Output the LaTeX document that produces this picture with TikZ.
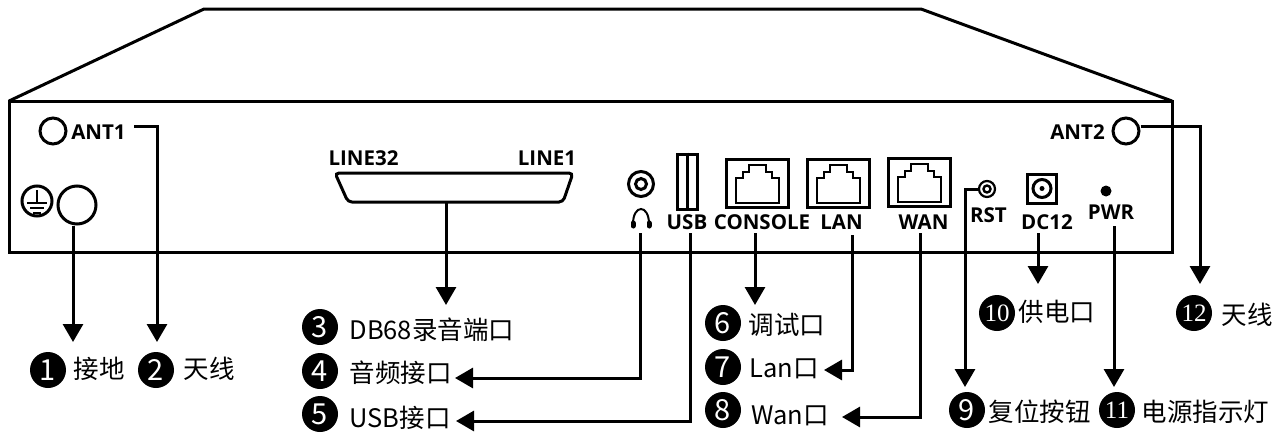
\documentclass[tikz,border=0pt]{standalone}
\usepackage{fontspec}
\setmainfont{Noto Sans CJK SC}
\newfontfamily\serifnum{Liberation Serif}
\newfontfamily\panelface{Open Sans}
\usetikzlibrary{arrows.meta}
\tikzset{every picture/.style = {x=1pt, y=-1pt, line width=3pt}}
\tikzset{badge/.style = {fill=black, text=white, shape=circle, inner sep=0, minimum size=36pt, font=\fontsize{29}{29}\selectfont}}
\tikzset{badgetwo/.style = {badge, font=\serifnum\fontsize{25}{25}\selectfont}}
\tikzset{caption/.style = {anchor=west, inner sep=0, font=\fontsize{25.5}{25.5}\selectfont}}
\tikzset{paneltext/.style = {inner sep=0, yshift=-1pt, font=\panelface\bfseries\fontsize{20.5}{20.5}\selectfont}}
\tikzset{port/.style = {draw, shape=circle, inner sep=0}}
\tikzset{portbox/.style = {draw, inner sep=0, minimum width=62pt, minimum height=48pt}}
\tikzset{wire/.style = {line width=3pt, -{Triangle[width=20pt, length=18pt]}}}
\newcommand{\rjicon}[2]{%
  \draw[line width=2.8pt] (#1-21.5,#2+20) -- (#1-21.5,#2-5) -- (#1-14.5,#2-5)
    -- (#1-14.5,#2-11) -- (#1-8.5,#2-11) -- (#1-8.5,#2-18) -- (#1+8.5,#2-18)
    -- (#1+8.5,#2-11) -- (#1+14.5,#2-11) -- (#1+14.5,#2-5) -- (#1+21.5,#2-5)
    -- (#1+21.5,#2+20) -- cycle;}

\begin{document}
\begin{tikzpicture}
  \useasboundingbox (0,0) rectangle (1287,434);
  \draw[line join=round] (9,101) -- (204,9) -- (921,9) -- (1172,101);
  \draw (9,101) rectangle (1172,252);

  \node[port, minimum size=26pt] (antone) at (53,131) {};
  \node[paneltext] (antonetext) at (98.5,131) {ANT1};
  \node[port, minimum size=30pt] (earth) at (37,201) {};
  \draw[line width=2.6pt] (37,190) -- (37,203) (27,203) -- (47,203) (30,208) -- (44,208) (33,213) -- (41,213);
  \node[port, minimum size=38pt] (ground) at (77,205) {};

  \node[paneltext] (linemax) at (363.5,157) {LINE32};
  \node[paneltext] (lineone) at (547,157) {LINE1};
  \draw[rounded corners=4pt] (335,173) -- (573,173) -- (563,202) -- (348,202) -- cycle;
  \coordinate (dsub) at (446,202);

  \node[port, minimum size=25pt] (jack) at (641,184) {};
  \node[port, minimum size=11pt] (jackin) at (641,184) {};
  \draw[line width=2pt] (633,224) .. controls (633,204) and (649,204) .. (649,224);
  \draw[line width=5pt, line cap=round] (633,223) -- (633,226) (649,223) -- (649,226);

  \node[draw, inner sep=0, minimum width=20pt, minimum height=55pt] (usb) at (687,181.5) {};
  \draw (usb.north) -- (usb.south);
  \node[paneltext] (usbtext) at (687,221) {USB};

  \node[portbox] (console) at (757.5,183) {};
  \rjicon{757.5}{183}
  \node[paneltext] (consoletext) at (762,221) {CONSOLE};
  \node[portbox] (lan) at (838.5,183) {};
  \rjicon{838.5}{183}
  \node[paneltext] (lantext) at (841.5,221) {LAN};
  \node[portbox] (wan) at (919.5,182) {};
  \rjicon{919.5}{182}
  \node[paneltext] (wantext) at (923.5,221) {WAN};

  \node[port, minimum size=16pt, line width=2.2pt] (rst) at (987,189) {};
  \node[port, minimum size=7pt, line width=2.4pt] (rstin) at (987,189) {};
  \node[paneltext] (rsttext) at (988.5,214) {RST};
  \node[draw, inner sep=0, minimum size=29pt] (dc) at (1042,188.5) {};
  \node[port, minimum size=18pt] (dcin) at (1042,188.5) {};
  \fill (1042,188.5) circle (2.5);
  \node[paneltext] (dctext) at (1047,221) {DC12};
  \node[fill, shape=circle, inner sep=0, minimum size=11pt] (pwr) at (1106,191) {};
  \node[paneltext] (pwrtext) at (1111,211) {PWR};
  \node[paneltext] (anttwotext) at (1077.5,131) {ANT2};
  \node[port, minimum size=26pt] (anttwo) at (1126,131) {};

  \node[badge] (numone) at (48,370) {1};
  \node[caption] (capone) at (72,369) {接地};
  \node[badge] (numtwo) at (156,370) {2};
  \node[caption] (captwo) at (182,369) {天线};
  \node[badge] (numthree) at (320,327) {3};
  \node[caption] (capthree) at (348,330) {DB68录音端口};
  \node[badge] (numfour) at (320,371) {4};
  \node[caption] (capfour) at (348,373) {音频接口};
  \node[badge] (numfive) at (320,414) {5};
  \node[caption] (capfive) at (348,418) {USB接口};
  \node[badge] (numsix) at (723,323) {6};
  \node[caption] (capsix) at (747,325) {调试口};
  \node[badge] (numseven) at (723,367) {7};
  \node[caption] (capseven) at (748,369) {Lan口};
  \node[badge] (numeight) at (723,410) {8};
  \node[caption] (capeight) at (750,416) {Wan口};
  \node[badge] (numnine) at (967,410) {9};
  \node[caption] (capnine) at (987,412) {复位按钮};
  \node[badgetwo] (numten) at (997,313) {10};
  \node[caption] (capten) at (1017,312) {供电口};
  \node[badgetwo] (numeleven) at (1117,410) {11};
  \node[caption] (capeleven) at (1140,412) {电源指示灯};
  \node[badgetwo] (numtwelve) at (1194,313) {12};
  \node[caption] (captwelve) at (1220,315) {天线};

  \coordinate (tipone) at (73,342);
  \coordinate (tiptwo) at (157,342);
  \coordinate (tipthree) at (446,305);
  \coordinate (tipfour) at (455,378);
  \coordinate (tipfive) at (456,421);
  \coordinate (tipsix) at (755,305);
  \coordinate (tipseven) at (824,370);
  \coordinate (tipeight) at (842,417);
  \coordinate (tipnine) at (965,387);
  \coordinate (tipten) at (1038,284);
  \coordinate (tipeleven) at (1114,387);
  \coordinate (tiptwelve) at (1200,284);

  \draw[wire] (ground.south -| tipone) -- (tipone);
  \draw[wire] (134,126) -- (157,126) -- (tiptwo);
  \draw[wire] (dsub) -- (tipthree);
  \draw[wire] (640,233) |- (tipfour);
  \draw[wire] (690,233) |- (tipfive);
  \draw[wire] (755,233) -- (tipsix);
  \draw[wire] (852,235) |- (tipseven);
  \draw[wire] (920,233) |- (tipeight);
  \draw[wire] (rst.west) -| (tipnine);
  \draw[wire] (1038,233) -- (tipten);
  \draw[wire] (1114,226) -- (tipeleven);
  \draw[wire] (anttwo.east |- 0,126) -| (tiptwelve);
\end{tikzpicture}
\end{document}
